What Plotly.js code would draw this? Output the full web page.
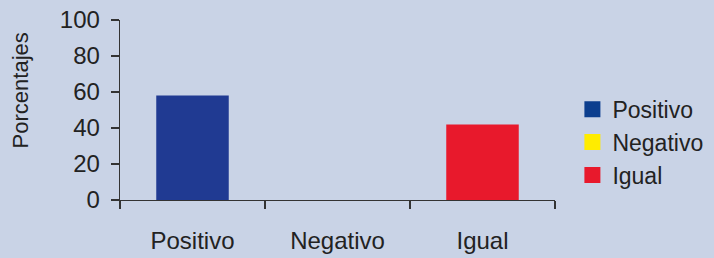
<!DOCTYPE html>
<html>
<head>
<meta charset="utf-8">
<script src="https://cdn.plot.ly/plotly-3.0.1.min.js"></script>
<style>html,body{margin:0;padding:0;background:#c9d3e6;}#chart{width:714px;height:258px;}</style>
</head>
<body>
<div id="chart"></div>
<script>
var categories = ["Positivo", "Negativo", "Igual"];
var values = [58, 0, 42];
var colors = ["#203a92", "#ffec00", "#e8192c"];
var legendColors = ["#0c3e8e", "#ffec00", "#e8192c"];
var yTickValues = [0, 20, 40, 60, 80, 100];
var yTitle = "Porcentajes";

var FONT = '"Liberation Sans", Arial, Helvetica, sans-serif';
var traces = [];
categories.forEach(function (c, i) {
  traces.push({
    type: "bar", x: [c], y: [values[i]], name: c,
    marker: {color: colors[i]}, width: 0.5, showlegend: false, hoverinfo: "skip"
  });
});
categories.forEach(function (c, i) {
  traces.push({
    type: "scatter", mode: "markers", x: [null], y: [null], name: c,
    marker: {color: legendColors[i], symbol: "square", size: 16}, showlegend: true
  });
});

var layout = {
  width: 714, height: 258,
  margin: {l: 120, r: 158.5, t: 20, b: 57.5, autoexpand: false},
  paper_bgcolor: "#c9d3e6", plot_bgcolor: "#c9d3e6",
  font: {family: FONT, color: "#222222", size: 24},
  barmode: "overlay",
  showlegend: true,
  legend: {x: 1.04, xanchor: "left", y: 0.321, yanchor: "middle",
    font: {family: FONT, size: 23, color: "#222222"}, bgcolor: "rgba(0,0,0,0)",
    tracegroupgap: 0, itemwidth: 30},
  xaxis: {
    type: "category", categoryorder: "array", categoryarray: categories,
    range: [-0.5, 2.5], showline: true, linecolor: "#333333", linewidth: 1.3,
    ticks: "outside", tickson: "boundaries", ticklen: 8, tickcolor: "#333333", tickwidth: 1.3,
    showgrid: false, zeroline: false, tickfont: {size: 24, color: "#222222"}, automargin: false,
    ticklabelstandoff: 19
  },
  yaxis: {
    range: [0, 100], tickvals: yTickValues, showline: true, linecolor: "#333333", linewidth: 1.3,
    ticks: "outside", ticklen: 8, tickcolor: "#333333", tickwidth: 1.3,
    showgrid: false, zeroline: false, tickfont: {size: 24, color: "#222222"}, automargin: false,
    ticklabelstandoff: 6
  },
  annotations: [{
    text: yTitle, xref: "paper", yref: "paper", x: (20 - 120) / 435.5, y: (200.5 - 90.5) / 180.5,
    xanchor: "center", yanchor: "middle", textangle: -90, showarrow: false,
    font: {family: FONT, size: 22, color: "#222222"}
  }]
};
Plotly.newPlot("chart", traces, layout, {displayModeBar: false, staticPlot: true});
</script>
</body>
</html>
